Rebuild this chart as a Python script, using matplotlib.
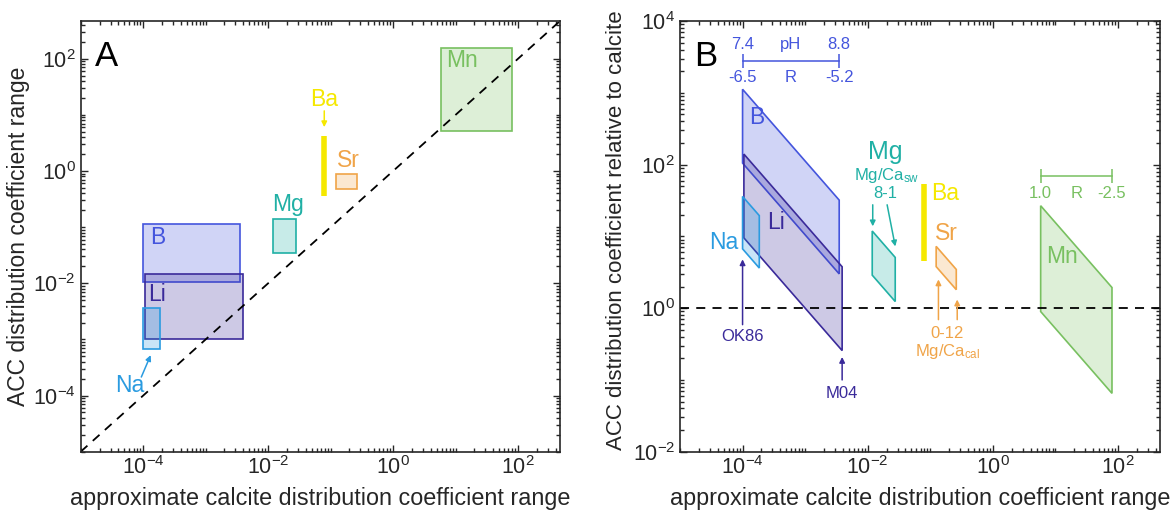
import matplotlib
matplotlib.use("Agg")
import matplotlib.pyplot as plt
import numpy as np
from matplotlib.patches import Polygon
from matplotlib.ticker import FixedLocator, LogLocator, FuncFormatter, NullFormatter

plt.rcParams['font.family'] = ['Liberation Sans', 'DejaVu Sans']
plt.rcParams['mathtext.fontset'] = 'custom'
plt.rcParams['mathtext.rm'] = 'Liberation Sans'
plt.rcParams['mathtext.it'] = 'Liberation Sans:italic'

# ranges (calcite D on x, ACC D on y)
elements = ['B', 'Li', 'Na', 'Mg', 'Sr', 'Mn']
calc_lo = [1.0e-4, 1.05e-4, 1.0e-4, 0.0118, 0.124, 5.8]
calc_hi = [3.5e-3, 3.9e-3, 1.85e-4, 0.0275, 0.26, 80.0]
acc_lo = [0.0105, 1.0e-3, 6.7e-4, 0.034, 0.47, 5.2]
acc_hi = [0.112, 0.0147, 3.6e-3, 0.14, 0.90, 155.0]
colors = ['#4455dd', '#3a2a9a', '#2a9be0', '#20b0a5', '#f0a448', '#78c060']

ba_calc = 0.079
ba_acc = [0.36, 4.2]
ba_color = '#f5e800'

lims = (1e-5, 10 ** 2.67)
ylim_b = (1e-2, 1e4)
xticks = [1e-4, 1e-2, 1e0, 1e2]
yticks_a = [1e-4, 1e-2, 1e0, 1e2]
yticks_b = [1e-2, 1e0, 1e2, 1e4]
dark = '#262626'


def style_axis(ax, ylim, yticks):
    ax.set_xscale('log')
    ax.set_yscale('log')
    ax.set_xlim(lims)
    ax.set_ylim(ylim)
    fmt = FuncFormatter(lambda v, p: r'$\mathdefault{10^{%d}}$' % round(np.log10(v)))
    for axis, ticks in ((ax.xaxis, xticks), (ax.yaxis, yticks)):
        axis.set_major_locator(FixedLocator(ticks))
        axis.set_minor_locator(LogLocator(base=10, subs=np.arange(1, 10), numticks=100))
        axis.set_major_formatter(fmt)
        axis.set_minor_formatter(NullFormatter())
    ax.tick_params(which='both', direction='in', top=True, right=True, colors=dark,
                   labelsize=15.5, width=1)
    ax.tick_params(which='major', length=5)
    ax.tick_params(which='minor', length=3)
    for s in ax.spines.values():
        s.set_color(dark)
        s.set_linewidth(1.2)
    ax.set_xlabel('approximate calcite distribution coefficient range', fontsize=16.8, color=dark)
    ax.xaxis.set_label_coords(0.5, -0.082)


def arrow(ax, tail, tip, c):
    ax.annotate('', xy=tip, xytext=tail,
                arrowprops=dict(arrowstyle='-|>', color=c, lw=1.1, mutation_scale=8,
                                shrinkA=0, shrinkB=0))


fig = plt.figure(figsize=(11.73, 5.17), dpi=100)
axA = fig.add_axes([0.0688, 0.1263, 0.4086, 0.833])
axB = fig.add_axes([0.5797, 0.1263, 0.4092, 0.833])

# ---- panel A ----
style_axis(axA, lims, yticks_a)
axA.set_ylabel('ACC distribution coefficient range', fontsize=16.5, color=dark)
axA.yaxis.set_label_coords(-0.106, 0.5)
axA.plot(lims, lims, '--', color='black', lw=1.3, dashes=(5, 4))
for i, el in enumerate(elements):
    x0, x1, y0, y1 = calc_lo[i], calc_hi[i], acc_lo[i], acc_hi[i]
    pts = [(x0, y0), (x1, y0), (x1, y1), (x0, y1)]
    axA.add_patch(Polygon(pts, closed=True, facecolor=colors[i], alpha=0.25, edgecolor='none'))
    axA.add_patch(Polygon(pts, closed=True, facecolor='none', edgecolor=colors[i], lw=1.2))
axA.plot([ba_calc, ba_calc], ba_acc, color=ba_color, lw=4, solid_capstyle='butt')

axA.text(0.03, 0.955, 'A', transform=axA.transAxes, fontsize=25, va='top')
lab = dict(fontsize=16.5, ha='center', va='center')
axA.text(10 ** -3.76, 10 ** -1.19, 'B', color=colors[0], **lab)
axA.text(10 ** -3.78, 10 ** -2.2, 'Li', color=colors[1], **lab)
axA.text(10 ** -4.22, 10 ** -3.82, 'Na', color=colors[2], **lab)
arrow(axA, (10 ** -4.03, 10 ** -3.67), (10 ** -3.88, 10 ** -3.28), colors[2])
axA.text(10 ** -1.69, 10 ** -0.6, 'Mg', color=colors[3], **lab)
axA.text(10 ** -0.72, 10 ** 0.18, 'Sr', color=colors[4], **lab)
axA.text(ba_calc, 10 ** 1.28, 'Ba', color=ba_color, **lab)
arrow(axA, (ba_calc, 10 ** 1.07), (ba_calc, 10 ** 0.78), ba_color)
axA.text(10 ** 1.1, 10 ** 1.97, 'Mn', color=colors[5], **lab)

# ---- panel B: same ranges divided by the calcite coefficient ----
style_axis(axB, ylim_b, yticks_b)
axB.set_ylabel('ACC distribution coefficient relative to calcite', fontsize=16, color=dark)
axB.yaxis.set_label_coords(-0.11, 0.515)
axB.axhline(1.0, ls='--', color='black', lw=1.3, dashes=(5, 4))
for i, el in enumerate(elements):
    x0, x1, y0, y1 = calc_lo[i], calc_hi[i], acc_lo[i], acc_hi[i]
    pts = [(x0, y1 / x0), (x1, y1 / x1), (x1, y0 / x1), (x0, y0 / x0)]
    axB.add_patch(Polygon(pts, closed=True, facecolor=colors[i], alpha=0.25, edgecolor='none'))
    axB.add_patch(Polygon(pts, closed=True, facecolor='none', edgecolor=colors[i], lw=1.2))
axB.plot([ba_calc, ba_calc], [v / ba_calc for v in ba_acc], color=ba_color, lw=4,
         solid_capstyle='butt')

axB.text(0.03, 0.955, 'B', transform=axB.transAxes, fontsize=25, va='top')
small = dict(fontsize=12, ha='center', va='center')

# pH / R scale for boron
bx0, bx1 = calc_lo[0], calc_hi[0]
bmid = np.sqrt(bx0 * bx1)
axB.plot([bx0, bx1], [10 ** 3.44] * 2, color=colors[0], lw=1.1, marker='|', ms=10, mew=1.1)
for x, t in zip([bx0, bmid, bx1], ['7.4', 'pH', '8.8']):
    axB.text(x, 10 ** 3.68, t, color=colors[0], **small)
for x, t in zip([bx0, bmid, bx1], ['-6.5', 'R', '-5.2']):
    axB.text(x, 10 ** 3.22, t, color=colors[0], **small)

axB.text(10 ** -3.77, 10 ** 2.65, 'B', color=colors[0], **lab)
axB.text(10 ** -3.47, 10 ** 1.19, 'Li', color=colors[1], **lab)
axB.text(10 ** -4.3, 10 ** 0.91, 'Na', color=colors[2], **lab)
axB.text(1e-4, 10 ** -0.4, 'OK86', color=colors[1], **small)
arrow(axB, (1e-4, 10 ** -0.23), (1e-4, 10 ** 0.68), colors[1])
axB.text(calc_hi[1], 10 ** -1.19, 'M04', color=colors[1], **small)
arrow(axB, (calc_hi[1], 10 ** -1.0), (calc_hi[1], 10 ** -0.68), colors[1])

axB.text(10 ** -1.72, 10 ** 2.17, 'Mg', color=colors[3], fontsize=18, ha='center', va='center')
axB.text(10 ** -1.7, 10 ** 1.85, r'Mg/Ca$_{\mathdefault{sw}}$', color=colors[3], **small)
axB.text(10 ** -1.72, 10 ** 1.6, '8-1', color=colors[3], **small)
arrow(axB, (10 ** -1.92, 10 ** 1.44), (10 ** -1.92, 10 ** 1.14), colors[3])
arrow(axB, (10 ** -1.69, 10 ** 1.44), (10 ** -1.56, 10 ** 0.86), colors[3])

axB.text(10 ** -0.98, 10 ** 1.6, 'Ba', color=ba_color, fontsize=16.5, ha='left', va='center')
axB.text(10 ** -0.74, 10 ** 1.04, 'Sr', color=colors[4], **lab)
arrow(axB, (10 ** -0.87, 10 ** -0.16), (10 ** -0.87, 10 ** 0.40), colors[4])
arrow(axB, (10 ** -0.57, 10 ** -0.16), (10 ** -0.57, 10 ** 0.12), colors[4])
axB.text(10 ** -0.73, 10 ** -0.35, '0-12', color=colors[4], **small)
axB.text(10 ** -0.73, 10 ** -0.6, r'Mg/Ca$_{\mathdefault{cal}}$', color=colors[4], **small)

# R scale for manganese
mx0, mx1 = calc_lo[5], calc_hi[5]
axB.plot([mx0, mx1], [10 ** 1.84] * 2, color=colors[5], lw=1.1, marker='|', ms=10, mew=1.1)
for x, t in zip([mx0, np.sqrt(mx0 * mx1), mx1], ['1.0', 'R', '-2.5']):
    axB.text(x, 10 ** 1.6, t, color=colors[5], **small)
axB.text(10 ** 1.1, 10 ** 0.72, 'Mn', color=colors[5], **lab)

fig.savefig('out.png', dpi=100)
